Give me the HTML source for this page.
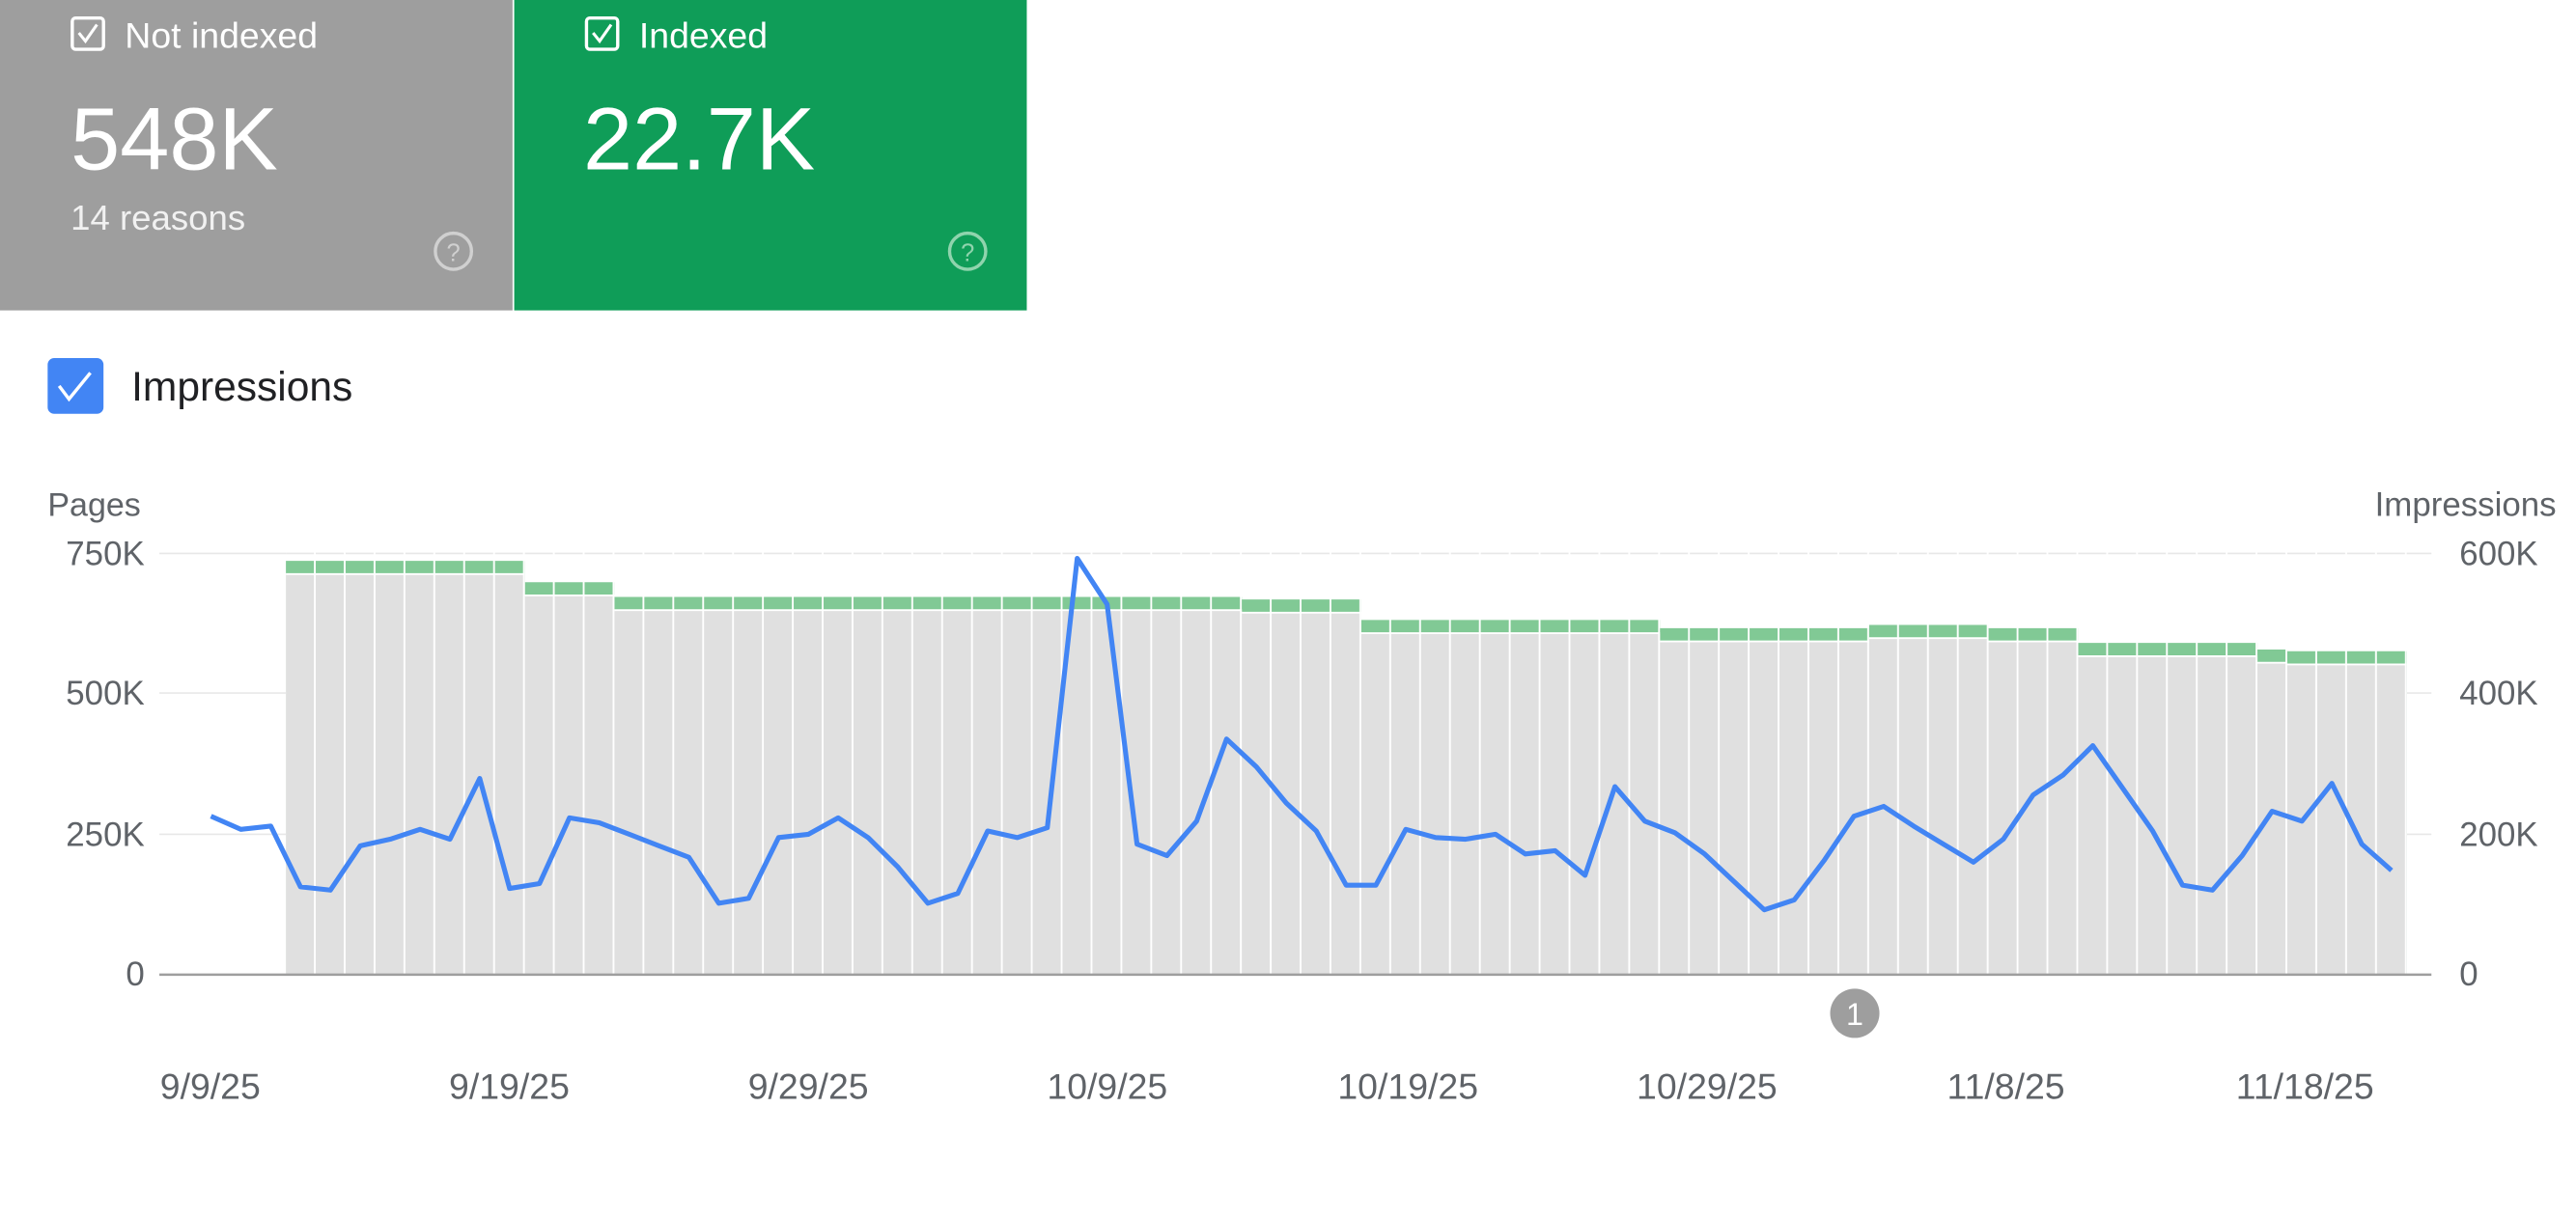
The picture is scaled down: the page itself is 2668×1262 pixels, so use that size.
<!DOCTYPE html>
<html><head><meta charset="utf-8"><style>
html,body{margin:0;padding:0;background:#fff;}
svg{display:block;}
text{font-family:"Liberation Sans",Arial,sans-serif;}
</style></head><body>
<svg width="2668" height="1262" viewBox="0 0 1568 741.65" preserveAspectRatio="none" xmlns="http://www.w3.org/2000/svg">
<defs>
<pattern id="gap" patternUnits="userSpaceOnUse" x="174" y="0" width="18.183" height="800">
<rect x="17.08" y="0" width="1.1" height="800" fill="#fff"/>
</pattern>
</defs>
<rect x="0" y="0" width="312" height="189" fill="#9e9e9e"/>
<rect x="313" y="0" width="312" height="189" fill="#0f9d58"/>
<rect x="44" y="11" width="19" height="19" rx="2" fill="none" stroke="#fff" stroke-width="2"/>
<path d="M48 20 l4 5 l7 -10" fill="none" stroke="#fff" stroke-width="1.8"/>
<text x="76" y="29" font-size="22" fill="#fff">Not indexed</text>
<text x="43" y="103" font-size="54" fill="#fff">548K</text>
<text x="43" y="140" font-size="21.5" fill="#f1f1f1">14 reasons</text>
<circle cx="276" cy="153" r="11" fill="none" stroke="#d0d0d0" stroke-width="2"/>
<text x="276" y="159" font-size="15" fill="#d0d0d0" text-anchor="middle">?</text>
<rect x="357" y="11" width="19" height="19" rx="2" fill="none" stroke="#fff" stroke-width="2"/>
<path d="M361 20 l4 5 l7 -10" fill="none" stroke="#fff" stroke-width="1.8"/>
<text x="389" y="29" font-size="22" fill="#fff">Indexed</text>
<text x="355" y="103" font-size="54" fill="#fff">22.7K</text>
<circle cx="589" cy="153" r="11" fill="none" stroke="#8fd4ad" stroke-width="2"/>
<text x="589" y="159" font-size="15" fill="#8fd4ad" text-anchor="middle">?</text>
<rect x="29" y="218" width="34" height="34" rx="4" fill="#4285f4"/>
<path d="M36 235 l6 8 l13 -16" fill="none" stroke="#fff" stroke-width="2"/>
<text x="80" y="244" font-size="25" fill="#202124">Impressions</text>
<text x="29" y="314" font-size="20" fill="#5f6368">Pages</text>
<text x="1556" y="314" font-size="20.5" fill="#5f6368" text-anchor="end">Impressions</text>

<g stroke="#e8e8e8" stroke-width="1">
<line x1="97" y1="508" x2="1480" y2="508"/>
<line x1="97" y1="422" x2="1480" y2="422"/>
<line x1="97" y1="337" x2="1480" y2="337"/>
</g>

<path fill="#81c995" d="M174 593 V341.5 H319.5 V354.5 H374 V363.5 H755.9 V365 H828.6 V377.5 H1010.4 V382.5 H1137.7 V380.5 H1210.4 V382.5 H1265 V391.5 H1374.1 V395.5 H1392.3 V396.5 H1465 V593 Z"/>
<g transform="translate(0,7)">
<path fill="#fff" d="M174 586 V342 H319.5 V355 H374 V364 H755.9 V365.5 H828.6 V378 H1010.4 V383 H1137.7 V381 H1210.4 V383 H1265 V392 H1374.1 V396 H1392.3 V397 H1465 V586 Z"/>
</g>
<g transform="translate(0,8.1)">
<path fill="#e0e0e0" d="M174 584.9 V342 H319.5 V355 H374 V364 H755.9 V365.5 H828.6 V378 H1010.4 V383 H1137.7 V381 H1210.4 V383 H1265 V392 H1374.1 V396 H1392.3 V397 H1465 V584.9 Z"/>
</g>
<rect x="174" y="330" width="1291" height="263" fill="url(#gap)"/>

<line x1="97" y1="593.5" x2="1480" y2="593.5" stroke="#9e9e9e" stroke-width="1.5"/>

<polyline fill="none" stroke="#4285f4" stroke-width="3" stroke-linejoin="round" points="128.4,497 146.6,505 164.8,503 182.9,540 201.1,542 219.3,515 237.5,511 255.7,505 273.9,511 292.0,474 310.2,541 328.4,538 346.6,498 364.8,501 383.0,508 401.1,515 419.3,522 437.5,550 455.7,547 473.9,510 492.1,508 510.2,498 528.4,510 546.6,528 564.8,550 583.0,544 601.2,506 619.3,510 637.5,504 655.7,340 673.9,368 692.1,514 710.3,521 728.4,500 746.6,450 764.8,467 783.0,489 801.2,506 819.4,539 837.5,539 855.7,505 873.9,510 892.1,511 910.3,508 928.5,520 946.6,518 964.8,533 983.0,479 1001.2,500 1019.4,507 1037.6,520 1055.7,537 1073.9,554 1092.1,548 1110.3,524 1128.5,497 1146.6,491 1164.8,503 1183.0,514 1201.2,525 1219.4,511 1237.6,484 1255.7,472 1273.9,454 1292.1,480 1310.3,506 1328.5,539 1346.7,542 1364.8,521 1383.0,494 1401.2,500 1419.4,477 1437.6,514 1455.7,530"/>

<circle cx="1129" cy="617" r="15" fill="#9e9e9e"/>
<text x="1129" y="624" font-size="19" fill="#fff" text-anchor="middle">1</text>

<g font-size="20.5" fill="#5f6368">
<text x="88" y="600" text-anchor="end">0</text>
<text x="88" y="515" text-anchor="end">250K</text>
<text x="88" y="429" text-anchor="end">500K</text>
<text x="88" y="344" text-anchor="end">750K</text>
<text x="1497" y="600">0</text>
<text x="1497" y="515">200K</text>
<text x="1497" y="429">400K</text>
<text x="1497" y="344">600K</text>
<g text-anchor="middle" font-size="22">
<text x="128" y="669">9/9/25</text>
<text x="310" y="669">9/19/25</text>
<text x="492" y="669">9/29/25</text>
<text x="674" y="669">10/9/25</text>
<text x="857" y="669">10/19/25</text>
<text x="1039" y="669">10/29/25</text>
<text x="1221" y="669">11/8/25</text>
<text x="1403" y="669">11/18/25</text>
</g>
</g>
</svg>
</body></html>
